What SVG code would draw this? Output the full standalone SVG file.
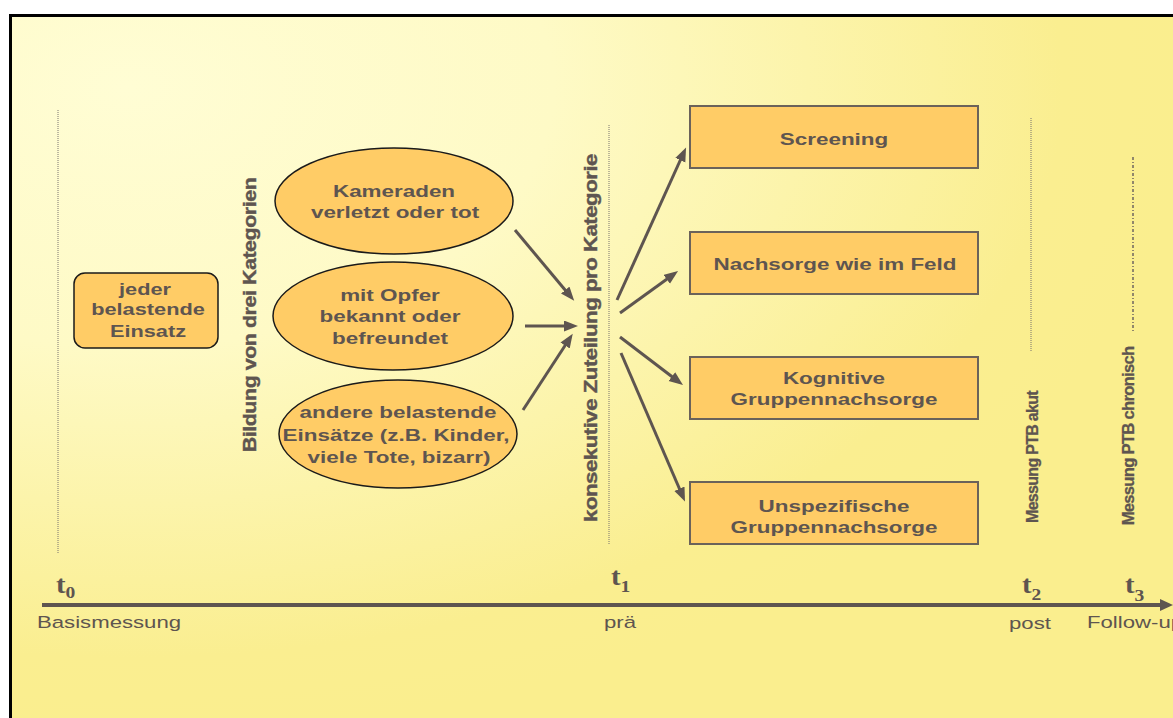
<svg xmlns="http://www.w3.org/2000/svg" width="1173" height="718" viewBox="0 0 1173 718">
  <defs>
    <radialGradient id="bg" cx="0.1" cy="0.1" r="0.9">
      <stop offset="0" stop-color="#FFFDD4"/>
      <stop offset="0.4" stop-color="#FEFAC6"/>
      <stop offset="0.88" stop-color="#FAEE90"/>
      <stop offset="1" stop-color="#FAEE8E"/>
    </radialGradient>
    <marker id="ah" markerUnits="userSpaceOnUse" markerWidth="15" markerHeight="12" refX="9" refY="5.5" orient="auto">
      <path d="M0,0 L14,5.5 L0,11 z" fill="#5E5550"/>
    </marker>
    <style>
      .t { font-family: "Liberation Sans", Arial, sans-serif; font-weight: bold; font-size: 17px; fill: #5E5550; text-anchor: middle; }
      .r { font-family: "Liberation Sans", Arial, sans-serif; font-size: 16.8px; fill: #5E5550; }
      .v { font-family: "Liberation Sans", Arial, sans-serif; font-weight: bold; font-size: 18.5px; fill: #5E5550; stroke: #5E5550; stroke-width: 0.4; text-anchor: middle; letter-spacing: -0.4px; }
      .m { font-family: "Liberation Sans", Arial, sans-serif; font-weight: bold; font-size: 16px; fill: #5E5550; stroke: #5E5550; stroke-width: 0.3; text-anchor: middle; letter-spacing: -0.7px; }
      .tt { font-family: "Liberation Serif", "Times New Roman", serif; font-weight: bold; font-size: 25px; fill: #5E5550; }
      .ts { font-family: "Liberation Serif", "Times New Roman", serif; font-weight: bold; font-size: 17px; fill: #5E5550; }
      .ell { fill: #FFCC66; stroke: #1a1a1a; stroke-width: 1.5; }
      .box { fill: #FFCC66; stroke: #6B625A; stroke-width: 2; }
      .dot { stroke: #7a7470; stroke-width: 1; stroke-dasharray: 1 1; fill: none; }
      .arr { stroke: #5E5550; stroke-width: 3; fill: none; marker-end: url(#ah); }
    </style>
  </defs>

  <rect x="0" y="0" width="1173" height="718" fill="#ffffff"/>
  <rect id="frame" x="10.5" y="15.5" width="1180" height="720" fill="url(#bg)" stroke="#000000" stroke-width="3"/>

  <g id="guides">
    <line class="dot" x1="58" y1="110" x2="58" y2="553"/>
    <line class="dot" x1="609" y1="125" x2="609" y2="545"/>
    <line class="dot" x1="1031" y1="118" x2="1031" y2="352"/>
    <line x1="1133" y1="157" x2="1133" y2="332" stroke="#6e6660" stroke-width="1.5" stroke-dasharray="3 2 1 2"/>
  </g>

  <g id="n-jeder">
    <rect x="74" y="273" width="144" height="75" rx="11" ry="11" fill="#FFCC66" stroke="#1a1a1a" stroke-width="1.5"/>
    <text class="t" transform="translate(145,295) scale(1.28,1)">jeder</text>
    <text class="t" transform="translate(148,315) scale(1.28,1)">belastende</text>
    <text class="t" transform="translate(148,337) scale(1.28,1)">Einsatz</text>
  </g>

  <g id="n-bildung">
    <text class="v" transform="translate(256,315) rotate(-90) scale(1.16,1)">Bildung von drei Kategorien</text>
  </g>

  <g id="n-kameraden">
    <ellipse class="ell" cx="394" cy="201" rx="119" ry="53"/>
    <text class="t" transform="translate(394,197) scale(1.32,1)">Kameraden</text>
    <text class="t" transform="translate(395,218) scale(1.32,1)">verletzt oder tot</text>
  </g>

  <g id="n-opfer">
    <ellipse class="ell" cx="393" cy="316" rx="120" ry="54"/>
    <text class="t" transform="translate(390,301) scale(1.32,1)">mit Opfer</text>
    <text class="t" transform="translate(390,322) scale(1.32,1)">bekannt oder</text>
    <text class="t" transform="translate(390,344) scale(1.32,1)">befreundet</text>
  </g>

  <g id="n-andere">
    <ellipse class="ell" cx="398" cy="434" rx="119" ry="54"/>
    <text class="t" transform="translate(398,418) scale(1.32,1)">andere belastende</text>
    <text class="t" transform="translate(396,441) scale(1.32,1)">Einsätze (z.B. Kinder,</text>
    <text class="t" transform="translate(399,463) scale(1.32,1)">viele Tote, bizarr)</text>
  </g>

  <g id="n-zuteilung">
    <text class="v" transform="translate(597,338) rotate(-90) scale(1.2,1)">konsekutive Zuteilung pro Kategorie</text>
  </g>

  <g id="n-screening">
    <rect class="box" x="690" y="106" width="288" height="62"/>
    <text class="t" transform="translate(834,145) scale(1.32,1)">Screening</text>
  </g>

  <g id="n-nachsorge">
    <rect class="box" x="690" y="232" width="288" height="62"/>
    <text class="t" transform="translate(835,270) scale(1.32,1)">Nachsorge wie im Feld</text>
  </g>

  <g id="n-kognitive">
    <rect class="box" x="690" y="357" width="288" height="62"/>
    <text class="t" transform="translate(834,384) scale(1.32,1)">Kognitive</text>
    <text class="t" transform="translate(834,405) scale(1.32,1)">Gruppennachsorge</text>
  </g>

  <g id="n-unspezifische">
    <rect class="box" x="690" y="482" width="288" height="62"/>
    <text class="t" transform="translate(834,512) scale(1.32,1)">Unspezifische</text>
    <text class="t" transform="translate(834,533) scale(1.32,1)">Gruppennachsorge</text>
  </g>

  <g id="n-akut">
    <text class="m" transform="translate(1038,457) rotate(-90)">Messung PTB akut</text>
  </g>
  <g id="n-chronisch">
    <text class="m" transform="translate(1134,436) rotate(-90) scale(1.04,1)">Messung PTB chronisch</text>
  </g>

  <g id="connectors">
    <line class="arr" x1="515" y1="230" x2="571" y2="297"/>
    <line class="arr" x1="525" y1="326" x2="573" y2="326"/>
    <line class="arr" x1="523" y1="410" x2="570" y2="338"/>
    <line class="arr" x1="617" y1="300" x2="684" y2="152"/>
    <line class="arr" x1="620" y1="313" x2="674" y2="274"/>
    <line class="arr" x1="620" y1="337" x2="679" y2="382"/>
    <line class="arr" x1="621" y1="353" x2="683" y2="497"/>
  </g>

  <g id="timeline">
    <line x1="42" y1="605" x2="1162" y2="605" stroke="#5E5550" stroke-width="4"/>
    <polygon points="1160,599 1173,605 1160,611" fill="#5E5550"/>
    <text class="tt" transform="translate(56,593) scale(1.15,1)">t<tspan class="ts" dy="5">0</tspan></text>
    <text class="tt" transform="translate(611,585) scale(1.15,1)">t<tspan class="ts" dy="7">1</tspan></text>
    <text class="tt" transform="translate(1022,593) scale(1.15,1)">t<tspan class="ts" dy="7">2</tspan></text>
    <text class="tt" transform="translate(1125,593) scale(1.15,1)">t<tspan class="ts" dy="8">3</tspan></text>
    <text class="r" transform="translate(37,628) scale(1.32,1)">Basismessung</text>
    <text class="r" transform="translate(604,628) scale(1.32,1)">prä</text>
    <text class="r" transform="translate(1009,629) scale(1.32,1)">post</text>
    <text class="r" transform="translate(1087,628) scale(1.32,1)">Follow-up</text>
  </g>
</svg>
